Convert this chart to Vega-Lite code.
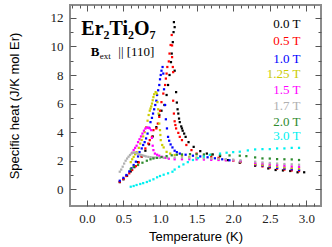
{
"$schema": "https://vega.github.io/schema/vega-lite/v6.json",
"width": 251, "height": 201,
"autosize": "none",
"padding": {"left": 70, "top": 5, "right": 11, "bottom": 41},
"background": "white",
"config": {"view": {"stroke": "#8c8c8c", "strokeWidth": 2}},
"datasets": {
"pts": [
{"f":"0.0 T","T":0.45,"C":0.5},{"f":"0.0 T","T":0.5,"C":0.7},{"f":"0.0 T","T":0.55,"C":0.95},{"f":"0.0 T","T":0.6,"C":1.25},{"f":"0.0 T","T":0.65,"C":1.55},{"f":"0.0 T","T":0.7,"C":1.9},{"f":"0.0 T","T":0.75,"C":2.3},{"f":"0.0 T","T":0.8,"C":2.7},{"f":"0.0 T","T":0.85,"C":3.15},{"f":"0.0 T","T":0.9,"C":3.7},{"f":"0.0 T","T":0.95,"C":4.35},{"f":"0.0 T","T":0.99,"C":5.2},{"f":"0.0 T","T":1.02,"C":5.5},{"f":"0.0 T","T":1.06,"C":5.9},{"f":"0.0 T","T":1.09,"C":6.6},{"f":"0.0 T","T":1.11,"C":7.3},{"f":"0.0 T","T":1.13,"C":8.0},{"f":"0.0 T","T":1.15,"C":8.9},{"f":"0.0 T","T":1.16,"C":9.5},{"f":"0.0 T","T":1.175,"C":10.3},{"f":"0.0 T","T":1.185,"C":11.0},{"f":"0.0 T","T":1.19,"C":11.7},{"f":"0.0 T","T":1.2,"C":11.35},{"f":"0.0 T","T":1.2,"C":8.3},{"f":"0.0 T","T":1.22,"C":6.8},{"f":"0.0 T","T":1.23,"C":6.07},{"f":"0.0 T","T":1.24,"C":5.6},{"f":"0.0 T","T":1.25,"C":5.3},{"f":"0.0 T","T":1.26,"C":4.95},{"f":"0.0 T","T":1.27,"C":4.7},{"f":"0.0 T","T":1.29,"C":4.4},{"f":"0.0 T","T":1.3,"C":4.26},{"f":"0.0 T","T":1.31,"C":4.1},{"f":"0.0 T","T":1.33,"C":3.9},{"f":"0.0 T","T":1.35,"C":3.67},{"f":"0.0 T","T":1.39,"C":3.3},{"f":"0.0 T","T":1.46,"C":2.97},{"f":"0.0 T","T":1.55,"C":2.67},{"f":"0.0 T","T":1.64,"C":2.5},{"f":"0.0 T","T":1.72,"C":2.44},{"f":"0.0 T","T":1.82,"C":2.32},{"f":"0.0 T","T":1.93,"C":2.04},{"f":"0.0 T","T":2.09,"C":1.86},{"f":"0.0 T","T":2.3,"C":1.65},{"f":"0.0 T","T":2.48,"C":1.46},{"f":"0.0 T","T":2.58,"C":1.35},{"f":"0.0 T","T":2.68,"C":1.32},{"f":"0.0 T","T":2.78,"C":1.28},{"f":"0.0 T","T":2.88,"C":1.19},{"f":"0.0 T","T":2.97,"C":1.19},
{"f":"0.5 T","T":0.45,"C":0.53},{"f":"0.5 T","T":0.5,"C":0.72},{"f":"0.5 T","T":0.54,"C":0.93},{"f":"0.5 T","T":0.58,"C":1.12},{"f":"0.5 T","T":0.62,"C":1.35},{"f":"0.5 T","T":0.67,"C":1.62},{"f":"0.5 T","T":0.71,"C":1.88},{"f":"0.5 T","T":0.75,"C":2.3},{"f":"0.5 T","T":0.8,"C":2.86},{"f":"0.5 T","T":0.84,"C":3.2},{"f":"0.5 T","T":0.86,"C":3.44},{"f":"0.5 T","T":0.89,"C":3.67},{"f":"0.5 T","T":0.91,"C":4.14},{"f":"0.5 T","T":0.95,"C":4.26},{"f":"0.5 T","T":0.97,"C":4.6},{"f":"0.5 T","T":0.99,"C":5.07},{"f":"0.5 T","T":1.0,"C":5.5},{"f":"0.5 T","T":1.02,"C":6.1},{"f":"0.5 T","T":1.045,"C":6.7},{"f":"0.5 T","T":1.07,"C":7.3},{"f":"0.5 T","T":1.08,"C":7.75},{"f":"0.5 T","T":1.09,"C":8.1},{"f":"0.5 T","T":1.1,"C":8.56},{"f":"0.5 T","T":1.12,"C":8.95},{"f":"0.5 T","T":1.13,"C":9.5},{"f":"0.5 T","T":1.145,"C":10.1},{"f":"0.5 T","T":1.16,"C":10.8},{"f":"0.5 T","T":1.165,"C":10.07},{"f":"0.5 T","T":1.165,"C":9.25},{"f":"0.5 T","T":1.175,"C":8.56},{"f":"0.5 T","T":1.18,"C":8.2},{"f":"0.5 T","T":1.18,"C":6.2},{"f":"0.5 T","T":1.19,"C":5.3},{"f":"0.5 T","T":1.2,"C":4.76},{"f":"0.5 T","T":1.21,"C":4.5},{"f":"0.5 T","T":1.22,"C":4.26},{"f":"0.5 T","T":1.25,"C":3.95},{"f":"0.5 T","T":1.27,"C":3.67},{"f":"0.5 T","T":1.3,"C":3.44},{"f":"0.5 T","T":1.36,"C":3.1},{"f":"0.5 T","T":1.43,"C":2.74},{"f":"0.5 T","T":1.5,"C":2.5},{"f":"0.5 T","T":1.6,"C":2.36},{"f":"0.5 T","T":1.7,"C":2.28},{"f":"0.5 T","T":1.8,"C":2.2},{"f":"0.5 T","T":1.9,"C":2.1},{"f":"0.5 T","T":2.0,"C":2.0},{"f":"0.5 T","T":2.1,"C":1.9},{"f":"0.5 T","T":2.3,"C":1.7},{"f":"0.5 T","T":2.4,"C":1.6},{"f":"0.5 T","T":2.5,"C":1.52},{"f":"0.5 T","T":2.6,"C":1.44},{"f":"0.5 T","T":2.7,"C":1.38},{"f":"0.5 T","T":2.8,"C":1.32},{"f":"0.5 T","T":2.9,"C":1.27},
{"f":"1.0 T","T":0.45,"C":0.6},{"f":"1.0 T","T":0.5,"C":0.8},{"f":"1.0 T","T":0.54,"C":1.0},{"f":"1.0 T","T":0.58,"C":1.25},{"f":"1.0 T","T":0.61,"C":1.47},{"f":"1.0 T","T":0.64,"C":1.7},{"f":"1.0 T","T":0.67,"C":1.93},{"f":"1.0 T","T":0.7,"C":2.3},{"f":"1.0 T","T":0.72,"C":2.6},{"f":"1.0 T","T":0.75,"C":2.86},{"f":"1.0 T","T":0.77,"C":3.1},{"f":"1.0 T","T":0.79,"C":3.3},{"f":"1.0 T","T":0.81,"C":3.56},{"f":"1.0 T","T":0.83,"C":3.9},{"f":"1.0 T","T":0.85,"C":4.3},{"f":"1.0 T","T":0.87,"C":4.7},{"f":"1.0 T","T":0.89,"C":5.0},{"f":"1.0 T","T":0.905,"C":5.3},{"f":"1.0 T","T":0.92,"C":5.6},{"f":"1.0 T","T":0.935,"C":5.9},{"f":"1.0 T","T":0.95,"C":6.2},{"f":"1.0 T","T":0.96,"C":6.6},{"f":"1.0 T","T":0.975,"C":6.93},{"f":"1.0 T","T":0.99,"C":7.3},{"f":"1.0 T","T":1.0,"C":7.7},{"f":"1.0 T","T":1.01,"C":8.0},{"f":"1.0 T","T":1.02,"C":8.3},{"f":"1.0 T","T":1.035,"C":8.56},{"f":"1.0 T","T":1.045,"C":8.1},{"f":"1.0 T","T":1.055,"C":7.0},{"f":"1.0 T","T":1.07,"C":5.9},{"f":"1.0 T","T":1.08,"C":4.9},{"f":"1.0 T","T":1.095,"C":4.26},{"f":"1.0 T","T":1.11,"C":3.67},{"f":"1.0 T","T":1.125,"C":3.4},{"f":"1.0 T","T":1.145,"C":3.14},{"f":"1.0 T","T":1.17,"C":2.93},{"f":"1.0 T","T":1.2,"C":2.7},{"f":"1.0 T","T":1.23,"C":2.6},{"f":"1.0 T","T":1.27,"C":2.5},{"f":"1.0 T","T":1.35,"C":2.42},{"f":"1.0 T","T":1.45,"C":2.35},{"f":"1.0 T","T":1.55,"C":2.3},{"f":"1.0 T","T":1.65,"C":2.24},{"f":"1.0 T","T":1.75,"C":2.17},{"f":"1.0 T","T":1.85,"C":2.1},{"f":"1.0 T","T":1.95,"C":2.03},{"f":"1.0 T","T":2.1,"C":1.92},{"f":"1.0 T","T":2.3,"C":1.74},{"f":"1.0 T","T":2.4,"C":1.66},{"f":"1.0 T","T":2.5,"C":1.58},{"f":"1.0 T","T":2.6,"C":1.5},{"f":"1.0 T","T":2.7,"C":1.45},{"f":"1.0 T","T":2.8,"C":1.4},{"f":"1.0 T","T":2.9,"C":1.35},
{"f":"1.25 T","T":0.6,"C":1.9},{"f":"1.25 T","T":0.62,"C":2.1},{"f":"1.25 T","T":0.64,"C":2.27},{"f":"1.25 T","T":0.66,"C":2.45},{"f":"1.25 T","T":0.68,"C":2.6},{"f":"1.25 T","T":0.71,"C":2.9},{"f":"1.25 T","T":0.73,"C":3.2},{"f":"1.25 T","T":0.75,"C":3.45},{"f":"1.25 T","T":0.77,"C":3.7},{"f":"1.25 T","T":0.79,"C":4.0},{"f":"1.25 T","T":0.81,"C":4.35},{"f":"1.25 T","T":0.83,"C":4.8},{"f":"1.25 T","T":0.845,"C":5.2},{"f":"1.25 T","T":0.86,"C":5.5},{"f":"1.25 T","T":0.87,"C":5.65},{"f":"1.25 T","T":0.88,"C":5.8},{"f":"1.25 T","T":0.89,"C":6.0},{"f":"1.25 T","T":0.9,"C":6.23},{"f":"1.25 T","T":0.91,"C":6.45},{"f":"1.25 T","T":0.92,"C":6.65},{"f":"1.25 T","T":0.94,"C":6.8},{"f":"1.25 T","T":0.955,"C":6.7},{"f":"1.25 T","T":0.965,"C":6.1},{"f":"1.25 T","T":0.975,"C":5.6},{"f":"1.25 T","T":0.98,"C":5.3},{"f":"1.25 T","T":0.99,"C":4.6},{"f":"1.25 T","T":1.0,"C":4.14},{"f":"1.25 T","T":1.005,"C":3.8},{"f":"1.25 T","T":1.01,"C":3.44},{"f":"1.25 T","T":1.03,"C":3.1},{"f":"1.25 T","T":1.05,"C":2.93},{"f":"1.25 T","T":1.09,"C":2.62},{"f":"1.25 T","T":1.14,"C":2.5},{"f":"1.25 T","T":1.2,"C":2.4},{"f":"1.25 T","T":1.3,"C":2.33},{"f":"1.25 T","T":1.4,"C":2.27},{"f":"1.25 T","T":1.5,"C":2.22},{"f":"1.25 T","T":1.6,"C":2.18},{"f":"1.25 T","T":1.7,"C":2.13},{"f":"1.25 T","T":1.8,"C":2.08},{"f":"1.25 T","T":1.9,"C":2.04},{"f":"1.25 T","T":2.0,"C":2.0},{"f":"1.25 T","T":2.1,"C":1.93},{"f":"1.25 T","T":2.3,"C":1.78},{"f":"1.25 T","T":2.4,"C":1.71},{"f":"1.25 T","T":2.5,"C":1.65},{"f":"1.25 T","T":2.6,"C":1.58},{"f":"1.25 T","T":2.7,"C":1.53},{"f":"1.25 T","T":2.8,"C":1.49},{"f":"1.25 T","T":2.9,"C":1.45},
{"f":"1.5 T","T":0.62,"C":2.55},{"f":"1.5 T","T":0.64,"C":2.75},{"f":"1.5 T","T":0.66,"C":2.9},{"f":"1.5 T","T":0.68,"C":3.05},{"f":"1.5 T","T":0.7,"C":3.3},{"f":"1.5 T","T":0.72,"C":3.5},{"f":"1.5 T","T":0.74,"C":3.7},{"f":"1.5 T","T":0.76,"C":3.9},{"f":"1.5 T","T":0.78,"C":4.1},{"f":"1.5 T","T":0.8,"C":4.25},{"f":"1.5 T","T":0.82,"C":4.33},{"f":"1.5 T","T":0.84,"C":4.3},{"f":"1.5 T","T":0.86,"C":4.26},{"f":"1.5 T","T":0.88,"C":4.14},{"f":"1.5 T","T":0.89,"C":3.6},{"f":"1.5 T","T":0.9,"C":3.05},{"f":"1.5 T","T":0.91,"C":2.74},{"f":"1.5 T","T":0.93,"C":2.5},{"f":"1.5 T","T":0.96,"C":2.42},{"f":"1.5 T","T":0.99,"C":2.35},{"f":"1.5 T","T":1.03,"C":2.27},{"f":"1.5 T","T":1.07,"C":2.2},{"f":"1.5 T","T":1.12,"C":2.14},{"f":"1.5 T","T":1.2,"C":2.1},{"f":"1.5 T","T":1.3,"C":2.1},{"f":"1.5 T","T":1.4,"C":2.1},{"f":"1.5 T","T":1.5,"C":2.09},{"f":"1.5 T","T":1.6,"C":2.08},{"f":"1.5 T","T":1.7,"C":2.06},{"f":"1.5 T","T":1.8,"C":2.05},{"f":"1.5 T","T":1.9,"C":2.03},{"f":"1.5 T","T":2.0,"C":2.02},{"f":"1.5 T","T":2.1,"C":1.97},{"f":"1.5 T","T":2.3,"C":1.85},{"f":"1.5 T","T":2.4,"C":1.8},{"f":"1.5 T","T":2.5,"C":1.74},{"f":"1.5 T","T":2.6,"C":1.69},{"f":"1.5 T","T":2.7,"C":1.65},{"f":"1.5 T","T":2.8,"C":1.6},{"f":"1.5 T","T":2.9,"C":1.57},
{"f":"1.7 T","T":0.45,"C":1.23},{"f":"1.7 T","T":0.47,"C":1.38},{"f":"1.7 T","T":0.49,"C":1.58},{"f":"1.7 T","T":0.51,"C":1.8},{"f":"1.7 T","T":0.53,"C":2.0},{"f":"1.7 T","T":0.55,"C":2.15},{"f":"1.7 T","T":0.57,"C":2.28},{"f":"1.7 T","T":0.59,"C":2.4},{"f":"1.7 T","T":0.61,"C":2.5},{"f":"1.7 T","T":0.63,"C":2.56},{"f":"1.7 T","T":0.65,"C":2.58},{"f":"1.7 T","T":0.67,"C":2.55},{"f":"1.7 T","T":0.69,"C":2.5},{"f":"1.7 T","T":0.71,"C":2.46},{"f":"1.7 T","T":0.73,"C":2.42},{"f":"1.7 T","T":0.75,"C":2.39},{"f":"1.7 T","T":0.77,"C":2.36},{"f":"1.7 T","T":0.79,"C":2.33},{"f":"1.7 T","T":0.81,"C":2.3},{"f":"1.7 T","T":0.84,"C":2.27},{"f":"1.7 T","T":0.87,"C":2.25},{"f":"1.7 T","T":0.9,"C":2.23},{"f":"1.7 T","T":0.93,"C":2.22},{"f":"1.7 T","T":0.96,"C":2.21},{"f":"1.7 T","T":1.0,"C":2.2},{"f":"1.7 T","T":1.05,"C":2.2},{"f":"1.7 T","T":1.1,"C":2.2},{"f":"1.7 T","T":1.2,"C":2.22},{"f":"1.7 T","T":1.3,"C":2.22},{"f":"1.7 T","T":1.4,"C":2.21},{"f":"1.7 T","T":1.5,"C":2.19},{"f":"1.7 T","T":1.6,"C":2.17},{"f":"1.7 T","T":1.7,"C":2.15},{"f":"1.7 T","T":1.8,"C":2.13},{"f":"1.7 T","T":1.9,"C":2.11},{"f":"1.7 T","T":2.0,"C":2.08},{"f":"1.7 T","T":2.1,"C":2.03},{"f":"1.7 T","T":2.3,"C":1.93},{"f":"1.7 T","T":2.4,"C":1.88},{"f":"1.7 T","T":2.5,"C":1.84},{"f":"1.7 T","T":2.6,"C":1.8},{"f":"1.7 T","T":2.7,"C":1.77},{"f":"1.7 T","T":2.8,"C":1.75},{"f":"1.7 T","T":2.9,"C":1.72},
{"f":"2.0 T","T":0.6,"C":1.42},{"f":"2.0 T","T":0.64,"C":1.58},{"f":"2.0 T","T":0.7,"C":1.7},{"f":"2.0 T","T":0.76,"C":1.86},{"f":"2.0 T","T":0.82,"C":2.0},{"f":"2.0 T","T":0.87,"C":2.1},{"f":"2.0 T","T":0.91,"C":2.16},{"f":"2.0 T","T":0.96,"C":2.2},{"f":"2.0 T","T":1.02,"C":2.26},{"f":"2.0 T","T":1.09,"C":2.32},{"f":"2.0 T","T":1.16,"C":2.38},{"f":"2.0 T","T":1.23,"C":2.42},{"f":"2.0 T","T":1.3,"C":2.44},{"f":"2.0 T","T":1.41,"C":2.46},{"f":"2.0 T","T":1.5,"C":2.45},{"f":"2.0 T","T":1.6,"C":2.44},{"f":"2.0 T","T":1.7,"C":2.42},{"f":"2.0 T","T":1.82,"C":2.39},{"f":"2.0 T","T":1.95,"C":2.37},{"f":"2.0 T","T":2.09,"C":2.35},{"f":"2.0 T","T":2.18,"C":2.32},{"f":"2.0 T","T":2.3,"C":2.23},{"f":"2.0 T","T":2.4,"C":2.16},{"f":"2.0 T","T":2.5,"C":2.15},{"f":"2.0 T","T":2.6,"C":2.11},{"f":"2.0 T","T":2.7,"C":2.1},{"f":"2.0 T","T":2.8,"C":2.09},{"f":"2.0 T","T":2.9,"C":2.05},
{"f":"3.0 T","T":0.6,"C":0.18},{"f":"3.0 T","T":0.64,"C":0.23},{"f":"3.0 T","T":0.68,"C":0.3},{"f":"3.0 T","T":0.73,"C":0.37},{"f":"3.0 T","T":0.77,"C":0.43},{"f":"3.0 T","T":0.82,"C":0.51},{"f":"3.0 T","T":0.86,"C":0.6},{"f":"3.0 T","T":0.91,"C":0.7},{"f":"3.0 T","T":0.96,"C":0.84},{"f":"3.0 T","T":1.0,"C":0.93},{"f":"3.0 T","T":1.05,"C":1.02},{"f":"3.0 T","T":1.11,"C":1.12},{"f":"3.0 T","T":1.17,"C":1.23},{"f":"3.0 T","T":1.2,"C":1.38},{"f":"3.0 T","T":1.26,"C":1.58},{"f":"3.0 T","T":1.32,"C":1.74},{"f":"3.0 T","T":1.38,"C":1.9},{"f":"3.0 T","T":1.45,"C":2.05},{"f":"3.0 T","T":1.52,"C":2.18},{"f":"3.0 T","T":1.6,"C":2.3},{"f":"3.0 T","T":1.68,"C":2.41},{"f":"3.0 T","T":1.82,"C":2.5},{"f":"3.0 T","T":1.91,"C":2.56},{"f":"3.0 T","T":2.0,"C":2.6},{"f":"3.0 T","T":2.09,"C":2.63},{"f":"3.0 T","T":2.2,"C":2.72},{"f":"3.0 T","T":2.3,"C":2.79},{"f":"3.0 T","T":2.4,"C":2.81},{"f":"3.0 T","T":2.5,"C":2.81},{"f":"3.0 T","T":2.6,"C":2.86},{"f":"3.0 T","T":2.7,"C":2.86},{"f":"3.0 T","T":2.8,"C":2.9},{"f":"3.0 T","T":2.9,"C":2.9}
],
"leg": [
{"f":"0.0 T","T":2.92,"C":11.54},{"f":"0.5 T","T":2.92,"C":10.35},{"f":"1.0 T","T":2.92,"C":9.14},{"f":"1.25 T","T":2.92,"C":8.1},{"f":"1.5 T","T":2.92,"C":6.98},{"f":"1.7 T","T":2.92,"C":5.81},{"f":"2.0 T","T":2.92,"C":4.72},{"f":"3.0 T","T":2.92,"C":3.74}
]
},
"layer": [
{
"data": {"name": "pts"},
"mark": {"type": "point", "shape": "square", "filled": true, "size": 5, "opacity": 1, "strokeWidth": 0},
"encoding": {
"x": {"field": "T", "type": "quantitative", "scale": {"domain": [-0.23, 3.2], "nice": false, "zero": false},
 "axis": {"orient": "bottom", "values": [0,0.1,0.2,0.3,0.4,0.5,0.6,0.7,0.8,0.9,1,1.1,1.2,1.3,1.4,1.5,1.6,1.7,1.8,1.9,2,2.1,2.2,2.3,2.4,2.5,2.6,2.7,2.8,2.9,3,3.1],
  "labelExpr": "abs(datum.value*2-round(datum.value*2))<0.01 ? format(datum.value,'.1f') : ''",
  "tickSize": {"condition": {"test": "abs(datum.value*2-round(datum.value*2))<0.01", "value": -6}, "value": -3},
  "tickColor": "#555", "tickWidth": 1, "domain": false, "grid": false,
  "labelPadding": 12, "labelFont": "Times New Roman, Liberation Serif, serif", "labelFontSize": 13, "labelColor": "#222", "labelOverlap": false, "labelFlush": false,
  "title": "Temperature (K)", "titleFont": "Liberation Sans", "titleFontSize": 13, "titleFontWeight": "normal", "titleColor": "#000", "titlePadding": 2}},
"y": {"field": "C", "type": "quantitative", "scale": {"domain": [-1.17, 12.9], "nice": false, "zero": false},
 "axis": {"orient": "left", "values": [0,1,2,3,4,5,6,7,8,9,10,11,12],
  "labelExpr": "datum.value % 2 == 0 ? datum.label : ''",
  "tickSize": {"condition": {"test": "datum.value % 2 == 0", "value": -6}, "value": -3},
  "tickColor": "#555", "tickWidth": 1, "domain": false, "grid": false,
  "labelPadding": 13, "labelFont": "Times New Roman, Liberation Serif, serif", "labelFontSize": 13, "labelColor": "#222", "labelOverlap": false, "labelFlush": false,
  "title": "Specific heat (J/K mol Er)", "titleFont": "Liberation Sans", "titleFontSize": 13, "titleFontWeight": "normal", "titleColor": "#000", "titlePadding": 29}},
"color": {"field": "f", "type": "nominal",
 "scale": {"domain": ["0.0 T","0.5 T","1.0 T","1.25 T","1.5 T","1.7 T","2.0 T","3.0 T"], "range": ["#000000","#ff0000","#0000ff","#cccc00","#ff00ff","#b0b0b0","#2e8b2e","#00f0f0"]},
 "legend": null}
}
},
{
"data": {"name": "leg"},
"mark": {"type": "text", "align": "right", "baseline": "middle", "font": "Times New Roman, Liberation Serif, serif", "fontSize": 13},
"encoding": {
"x": {"field": "T", "type": "quantitative", "scale": {"domain": [-0.23, 3.2], "nice": false, "zero": false},
 "axis": {"orient": "top", "values": [-0.2,-0.1,0,0.1,0.2,0.3,0.4,0.5,0.6,0.7,0.8,0.9,1,1.1,1.2,1.3,1.4,1.5,1.6,1.7,1.8,1.9,2,2.1,2.2,2.3,2.4,2.5,2.6,2.7,2.8,2.9,3,3.1],
  "labels": false, "title": null, "domain": false, "grid": false,
  "tickSize": {"condition": {"test": "abs(datum.value*2-round(datum.value*2))<0.01", "value": -6}, "value": -3},
  "tickColor": "#555", "tickWidth": 1}},
"y": {"field": "C", "type": "quantitative", "scale": {"domain": [-1.17, 12.9], "nice": false, "zero": false},
 "axis": {"orient": "right", "values": [0,1,2,3,4,5,6,7,8,9,10,11,12],
  "labels": false, "title": null, "domain": false, "grid": false,
  "tickSize": {"condition": {"test": "datum.value % 2 == 0", "value": -6}, "value": -3},
  "tickColor": "#555", "tickWidth": 1}},
"text": {"field": "f"},
"color": {"field": "f", "type": "nominal", "legend": null}
}
},
{
"data": {"values": [{"s": "Er₂Ti₂O₇", "T": -0.075, "C": 10.77}]},
"mark": {"type": "text", "align": "left", "baseline": "alphabetic", "font": "Times New Roman, Liberation Serif, serif", "fontSize": 20, "fontWeight": "bold", "color": "#000"},
"encoding": {"x": {"field": "T", "type": "quantitative", "axis": null}, "y": {"field": "C", "type": "quantitative", "axis": null}, "text": {"field": "s"}}
},
{
"data": {"values": [{"s": "B", "T": 0.055, "C": 9.6}]},
"mark": {"type": "text", "align": "left", "baseline": "middle", "font": "Times New Roman, Liberation Serif, serif", "fontSize": 13, "fontWeight": "bold", "color": "#000"},
"encoding": {"x": {"field": "T", "type": "quantitative", "axis": null}, "y": {"field": "C", "type": "quantitative", "axis": null}, "text": {"field": "s"}}
},
{
"data": {"values": [{"s": "ext", "T": 0.175, "C": 9.3}]},
"mark": {"type": "text", "align": "left", "baseline": "middle", "font": "Times New Roman, Liberation Serif, serif", "fontSize": 9, "color": "#000"},
"encoding": {"x": {"field": "T", "type": "quantitative", "axis": null}, "y": {"field": "C", "type": "quantitative", "axis": null}, "text": {"field": "s"}}
},
{
"data": {"values": [{"s": "|| [110]", "T": 0.43, "C": 9.6}]},
"mark": {"type": "text", "align": "left", "baseline": "middle", "font": "Times New Roman, Liberation Serif, serif", "fontSize": 13, "color": "#000"},
"encoding": {"x": {"field": "T", "type": "quantitative", "axis": null}, "y": {"field": "C", "type": "quantitative", "axis": null}, "text": {"field": "s"}}
}
],
"resolve": {"axis": {"x": "independent", "y": "independent"}}
}
